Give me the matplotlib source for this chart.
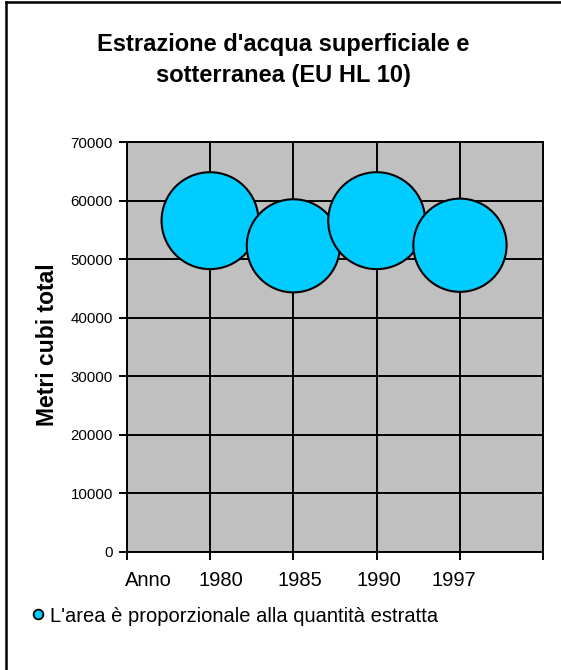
import matplotlib
matplotlib.use("Agg")
import matplotlib.pyplot as plt
from matplotlib.lines import Line2D

plt.rcParams['font.family'] = ['Liberation Sans', 'DejaVu Sans']

# ---- data ----
years = ["1980", "1985", "1990", "1997"]
x_pos = [1, 2, 3, 4]
volumes = [56600, 52300, 56600, 52400]      # Metri cubi total (y)
bubble_sizes = [56600, 52300, 56600, 52400]  # area proportional to quantity
y_ticks = [0, 10000, 20000, 30000, 40000, 50000, 60000, 70000]
title = "Estrazione d'acqua superficiale e\nsotterranea (EU HL 10)"
ylabel = "Metri cubi total"
first_label = "Anno"
legend_label = "L'area è proporzionale alla quantità estratta"

W, H = 561, 670
fig = plt.figure(figsize=(W / 100, H / 100), dpi=100)
fig.patch.set_facecolor('white')

ax = fig.add_axes([126.7 / W, 1 - 551.7 / H, (543.3 - 126.7) / W, (551.7 - 142.3) / H])
ax.set_facecolor('#C0C0C0')
ax.set_xlim(0, 5)
ax.set_ylim(0, 70000)

# grid
ax.set_xticks([0, 1, 2, 3, 4, 5])
ax.set_yticks(y_ticks)
ax.grid(True, color='black', linewidth=1.4, zorder=1)
ax.set_axisbelow(True)
for s in ax.spines.values():
    s.set_color('black')
    s.set_linewidth(1.4)

scale = 0.0860
ax.scatter(x_pos, volumes, s=[b * scale for b in bubble_sizes],
           color='#00CCFF', edgecolors='black', linewidths=1.5, zorder=3)

ax.tick_params(axis='y', direction='out', length=6, width=1.4, pad=4,
               labelsize=10.8, colors='black')
ax.tick_params(axis='x', which='major', direction='out', length=6, width=1.4,
               labelbottom=False)
# x category labels (Excel places them slightly off the gridlines)
label_pos = [0.26, 1.13, 2.08, 3.03, 3.93]
ax.set_xticks(label_pos, minor=True)
ax.set_xticklabels([first_label] + years, minor=True, fontsize=14.5)
ax.tick_params(axis='x', which='minor', length=0, pad=14)

fig.text(283 / W, 1 - 60 / H, title, ha='center', va='center',
         fontsize=17, fontweight='bold', linespacing=1.4)
fig.text(48 / W, 1 - 345 / H, ylabel, rotation=90, ha='center', va='center',
         fontsize=16.5, fontweight='bold')

# legend
handle = Line2D([], [], marker='o', linestyle='none', markersize=7,
                markerfacecolor='#00CCFF', markeredgecolor='black', markeredgewidth=1.3)
fig.legend([handle], [legend_label], loc='center left',
           bbox_to_anchor=(22 / W, 1 - 616 / H), frameon=False,
           fontsize=14.5, handlelength=0.6, handletextpad=0.3, borderpad=0)

# figure border (top and left visible)
fig.add_artist(Line2D([6 / W, 1], [1 - 2 / H, 1 - 2 / H], color='black', linewidth=1.8,
                      transform=fig.transFigure))
fig.add_artist(Line2D([6 / W, 6 / W], [0, 1 - 2 / H], color='black', linewidth=1.8,
                      transform=fig.transFigure))

fig.savefig('out.png', dpi=100, facecolor='white')
